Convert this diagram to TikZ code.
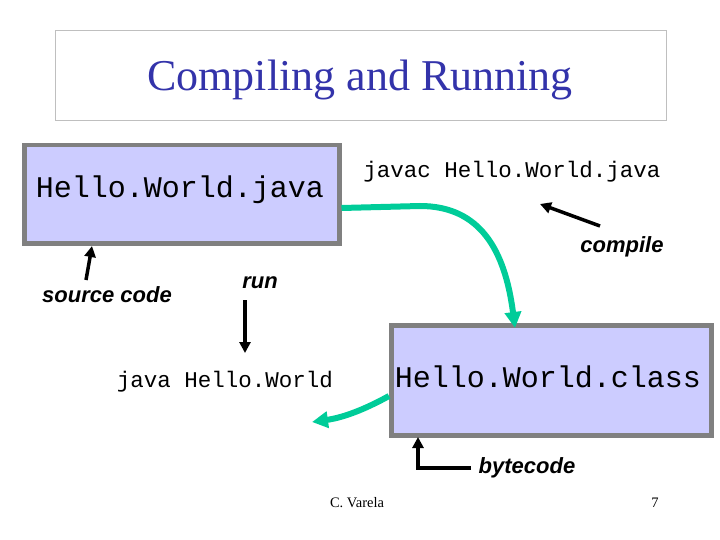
\documentclass[tikz,border=0pt]{standalone}
\usepackage{fontspec}
\setmainfont{Liberation Serif}
\setsansfont{Liberation Sans}
\setmonofont{Liberation Mono}
\usetikzlibrary{arrows.meta,positioning}
\definecolor{boxfill}{RGB}{204,204,255}
\definecolor{boxline}{RGB}{128,128,128}
\definecolor{flow}{RGB}{0,204,153}
\definecolor{titleblue}{RGB}{51,51,170}
\begin{document}
\begin{tikzpicture}[x=1pt,y=-1pt,
    file node/.style={draw=boxline,line width=4.5pt,fill=boxfill,anchor=north west,inner sep=0pt},
    code/.style={font=\fontsize{22.5}{24}\ttfamily},
    note/.style={font=\fontsize{22}{24}\sffamily\bfseries\itshape},
    flow arrow/.style={draw=flow,line width=6pt,-{Triangle[length=16pt,width=16pt]}},
    hint arrow/.style={draw=black,line width=3.5pt,-{Triangle[length=11pt,width=11pt]}}]
\useasboundingbox (0,0) rectangle (720,540);

\node[draw=black!25,line width=0.6pt,minimum width=611pt,minimum height=90pt,anchor=north west] (title) at (55,30) {};
\node[font=\fontsize{44}{46}\selectfont,text=titleblue] at (360,80) {Compiling and Running};

\node[file node,minimum width=315pt,minimum height=98pt] (src) at (22,143) {};
\node[font=\fontsize{30}{32}\ttfamily] at (180,190) {Hello.World.java};
\node[file node,minimum width=320pt,minimum height=110pt] (cls) at (389,323) {};
\node[font=\fontsize{30}{32}\ttfamily] at (548,377) {Hello.World.class};

\node[code] (javac) at (512,172) {javac Hello.World.java};
\node[code] (java) at (225,382) {java Hello.World};
\node[note] (compile) at (622,247) {compile};
\node[note] (source) at (107,295) {source code};
\node[note] (run) at (260,283) {run};
\node[note] (byte) at (527,468) {bytecode};
\node[font=\fontsize{14.5}{16}\selectfont] (author) at (357,503) {C. Varela};
\node[font=\fontsize{14.5}{16}\selectfont] (page) at (655,503) {7};

\coordinate (c1) at (515,328);
\coordinate (c2) at (312,422);
\coordinate (k1) at (540,204);
\coordinate (k2) at (92,246);
\coordinate (k3) at (245,353);
\coordinate (k4) at (418,437);

\draw[flow arrow] (src.east |- 0,208) -- (420,206) .. controls (480,206) and (505,250) .. (c1);
\draw[flow arrow] (cls.west |- 0,396) .. controls (360,412) and (340,418) .. (c2);
\draw[hint arrow] (600,226) -- (k1);
\draw[hint arrow] (86,280) -- (k2);
\draw[hint arrow] (245,300) -- (k3);
\draw[hint arrow] (471,468) -- (418,468) -- (k4);
\end{tikzpicture}
\end{document}
